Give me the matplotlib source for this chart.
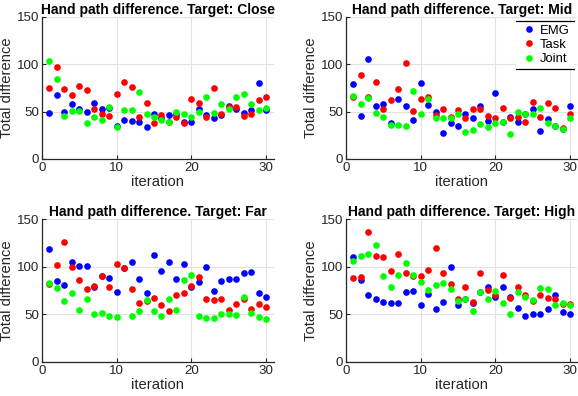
import matplotlib
matplotlib.use('Agg')
import matplotlib.pyplot as plt
import numpy as np

plt.rcParams['font.family'] = ['Liberation Sans', 'DejaVu Sans']

iterations = np.arange(1, 31)
targets = ['Close', 'Mid', 'Far', 'High']
series_names = ['EMG', 'Task', 'Joint']
series_colors = ['#0000ff', '#ff0000', '#00ff00']

# Target: Close
close_emg = [49, 68, 50, 58, 53, 50, 59, 53, 54, 35, 41, 40, 39, 34, 47, 43, 46, 48, 39, 39,
             53, 46, 43, 46, 56, 53, 49, 52, 80, 52]
close_task = [75, 97, 74, 68, 77, 73, 53, 47, 45, 69, 81, 76, 44, 59, 38, 46, 39, 44, 38, 63,
              59, 44, 75, 47, 55, 55, 45, 48, 62, 65]
close_joint = [104, 84, 45, 51, 51, 38, 44, 41, 55, 34, 52, 52, 71, 47, 44, 41, 39, 50, 47, 44,
               50, 65, 49, 58, 53, 66, 69, 58, 52, 54]

# Target: Mid
mid_emg = [79, 45, 106, 56, 58, 38, 63, 56, 41, 80, 57, 50, 27, 38, 35, 48, 43, 56, 40, 70,
           39, 44, 39, 48, 53, 30, 42, 35, 32, 56]
mid_task = [65, 89, 65, 81, 53, 62, 74, 101, 51, 63, 65, 46, 53, 44, 52, 43, 53, 53, 45, 43,
            54, 43, 44, 39, 60, 44, 59, 54, 33, 48]
mid_joint = [67, 58, 64, 49, 44, 36, 36, 35, 72, 48, 63, 43, 43, 43, 47, 28, 31, 37, 34, 38,
             39, 26, 50, 47, 47, 54, 38, 35, 32, 43]

# Target: Far
far_emg = [119, 85, 81, 105, 101, 101, 79, 90, 88, 74, 99, 105, 87, 73, 113, 96, 105, 87, 103, 79,
           84, 100, 75, 85, 87, 87, 94, 95, 73, 68]
far_task = [82, 102, 126, 100, 86, 77, 80, 90, 79, 103, 99, 77, 62, 64, 67, 60, 54, 70, 73, 80,
            89, 66, 65, 66, 55, 61, 66, 56, 61, 58]
far_joint = [83, 78, 64, 73, 55, 66, 50, 52, 48, 47, np.nan, 48, 54, 65, 54, 48, 66, 55, 86, 91,
             48, 46, 46, 50, 50, 49, 68, 52, 47, 45]

# Target: High
high_emg = [110, 86, 71, 66, 63, 62, 62, 74, 75, 60, 72, 56, 63, 100, 60, 66, 62, 74, 79, 68,
            79, 68, 57, 48, 50, 51, 56, 70, 53, 50]
high_task = [88, 89, 137, 112, 110, 96, 114, 94, 90, 90, 97, 120, 94, 82, 66, 79, 63, 94, 76, 71,
             91, 67, 79, 70, 64, 70, 67, 66, 61, 61]
high_joint = [106, 112, 114, 123, 90, 79, 91, 104, 92, 84, 76, 81, 83, 77, 64, 66, 54, 74, 66, 75,
              62, 51, 74, 68, 65, 78, 77, 60, 62, 60]

panel_data = [
    [close_emg, close_task, close_joint],
    [mid_emg, mid_task, mid_joint],
    [far_emg, far_task, far_joint],
    [high_emg, high_task, high_joint],
]

fig = plt.figure(figsize=(5.78, 3.96), dpi=100)
positions = [
    [0.0727, 0.5985, 0.4005, 0.3586],
    [0.5986, 0.5985, 0.4005, 0.3586],
    [0.0727, 0.0859, 0.4005, 0.3600],
    [0.5986, 0.0859, 0.4005, 0.3600],
]

text_col = '#262626'
for pos, target, data in zip(positions, targets, panel_data):
    ax = fig.add_axes(pos)
    for vals, name, col in zip(data, series_names, series_colors):
        ax.plot(iterations, vals, 'o', color=col, ms=4.8, mew=0, label=name)
    ax.set_xlim(0, 31)
    ax.set_ylim(0, 150)
    ax.set_xticks([0, 10, 20, 30])
    ax.set_yticks([0, 50, 100, 150])
    ax.grid(True, color='#e2e2e2', linewidth=0.8)
    ax.set_axisbelow(True)
    for side in ['top', 'right']:
        ax.spines[side].set_visible(False)
    for side in ['left', 'bottom']:
        ax.spines[side].set_color(text_col)
        ax.spines[side].set_linewidth(0.9)
    ax.tick_params(direction='in', length=3, labelsize=9.6, colors=text_col, pad=2)
    ax.set_xlabel('iteration', fontsize=10.6, color=text_col, labelpad=1)
    ax.set_ylabel('Total difference', fontsize=10.6, color=text_col, labelpad=2)
    ax.set_title(f'Hand path difference. Target: {target}', fontsize=10,
                 fontweight='bold', pad=1.5)
    if target == 'Mid':
        leg = ax.legend(loc='upper right', fontsize=9.4, frameon=True, fancybox=False,
                        edgecolor='none', framealpha=1, handletextpad=0.2,
                        borderaxespad=0.3, labelspacing=0.15, handlelength=1.3,
                        borderpad=0.3)
        fig.canvas.draw()
        bb = leg.get_window_extent().transformed(fig.transFigure.inverted())
        for yy in [bb.y0, bb.y1]:
            fig.add_artist(plt.Line2D([bb.x0, bb.x1], [yy, yy], color='black', lw=0.9))

plt.savefig('out.png', dpi=100)
